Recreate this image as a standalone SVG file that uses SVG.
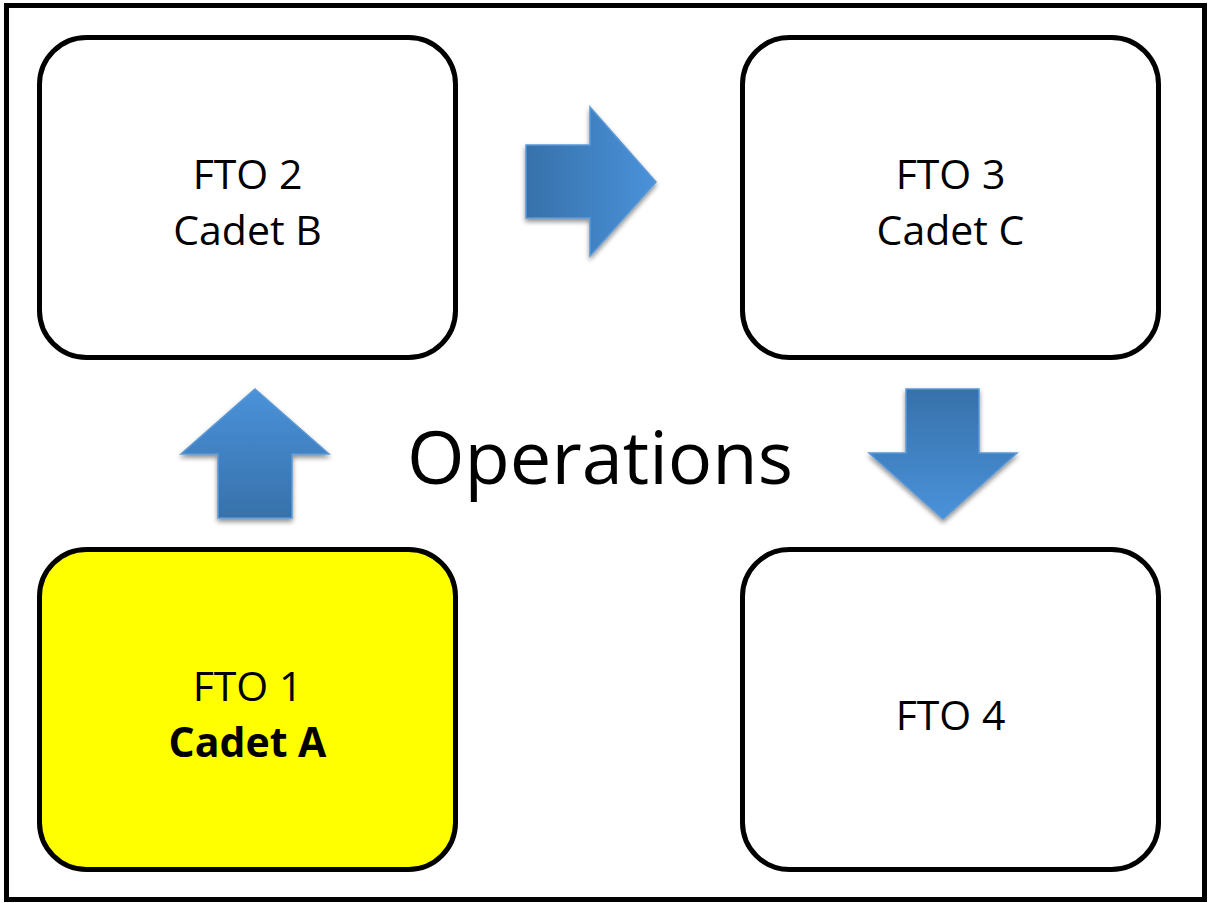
<svg xmlns="http://www.w3.org/2000/svg" width="1209" height="903" viewBox="0 0 1209 903">
  <defs>
    <style>
      .frame { fill: #ffffff; stroke: #000000; stroke-width: 5; }
      .box { fill: #ffffff; stroke: #000000; stroke-width: 5; }
      .box.active { fill: #ffff00; }
      .label { font-family: "Open Sans", "Noto Sans", sans-serif; font-size: 41px; fill: #000000; text-anchor: middle; }
      .label.bold { font-weight: bold; }
      .title { font-family: "Open Sans", "Noto Sans", sans-serif; font-size: 74px; fill: #000000; text-anchor: middle; }
      .arrow { stroke: #5a98d6; stroke-width: 1.5; stroke-linejoin: miter; filter: url(#shadow); }
    </style>
    <linearGradient id="gradRight" x1="526" y1="0" x2="656" y2="0" gradientUnits="userSpaceOnUse">
      <stop offset="0" stop-color="#3771aa"/>
      <stop offset="1" stop-color="#4a92da"/>
    </linearGradient>
    <linearGradient id="gradUp" x1="0" y1="518" x2="0" y2="389" gradientUnits="userSpaceOnUse">
      <stop offset="0" stop-color="#3771aa"/>
      <stop offset="1" stop-color="#4a92da"/>
    </linearGradient>
    <linearGradient id="gradDown" x1="0" y1="389" x2="0" y2="519" gradientUnits="userSpaceOnUse">
      <stop offset="0" stop-color="#3771aa"/>
      <stop offset="1" stop-color="#4a92da"/>
    </linearGradient>
    <filter id="shadow" x="-20%" y="-20%" width="140%" height="150%">
      <feGaussianBlur in="SourceAlpha" stdDeviation="2.5"/>
      <feOffset dx="0" dy="3" result="blur"/>
      <feComponentTransfer><feFuncA type="linear" slope="0.45"/></feComponentTransfer>
      <feMerge>
        <feMergeNode/>
        <feMergeNode in="SourceGraphic"/>
      </feMerge>
    </filter>
  </defs>

  <!-- outer frame -->
  <rect class="frame" x="6.5" y="5.5" width="1198" height="894"/>

  <text class="title" x="600" y="484">Operations</text>

  <g id="node-fto2">
    <rect class="box" x="39.5" y="37.5" width="416" height="320" rx="47" ry="47"/>
    <text class="label" x="247.5" y="189">FTO 2</text>
    <text class="label" x="247.5" y="245">Cadet B</text>
  </g>

  <g id="node-fto3">
    <rect class="box" x="742.5" y="37.5" width="416" height="320" rx="47" ry="47"/>
    <text class="label" x="950.5" y="189">FTO 3</text>
    <text class="label" x="950.5" y="245">Cadet C</text>
  </g>

  <g id="node-fto1">
    <rect class="box active" x="39.5" y="549.5" width="416" height="320" rx="47" ry="47"/>
    <text class="label" x="247.5" y="701">FTO 1</text>
    <text class="label bold" x="247.5" y="757">Cadet A</text>
  </g>

  <g id="node-fto4">
    <rect class="box" x="742.5" y="549.5" width="416" height="320" rx="47" ry="47"/>
    <text class="label" x="950.5" y="730">FTO 4</text>
  </g>

  <g id="connectors">
    <!-- FTO 1 to FTO 2 -->
    <polygon class="arrow" fill="url(#gradUp)" points="255,389 329,454 292,454 292,518 218,518 218,454 181,454"/>
    <!-- FTO 2 to FTO 3 -->
    <polygon class="arrow" fill="url(#gradRight)" points="656,182 590,256 590,218 526,218 526,145 590,145 590,107"/>
    <!-- FTO 3 to FTO 4 -->
    <polygon class="arrow" fill="url(#gradDown)" points="943,519 869,453 906,453 906,389 979,389 979,453 1017,453"/>
  </g>
</svg>
